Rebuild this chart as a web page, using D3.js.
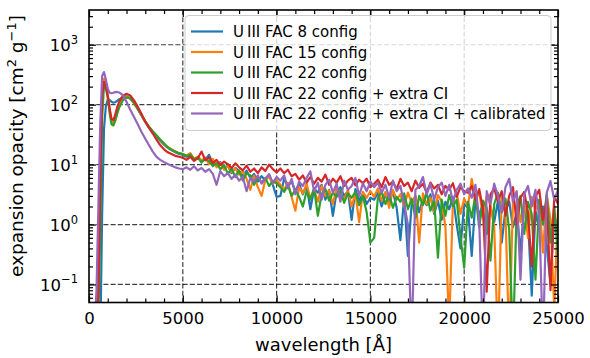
<!DOCTYPE html>
<html>
<head>
<meta charset="utf-8">
<script src="https://cdn.jsdelivr.net/npm/d3@7"></script>
<style>
  body { margin: 0; background: #fff; }
  svg text { font-family: "DejaVu Sans", sans-serif; fill: #000; }
</style>
</head>
<body>
<div id="chart"></div>
<script>

// wavelength grid [Angstrom], shared by all series
const wavelength = [
  300, 400, 500, 600, 700, 800, 900, 1000, 1100, 1200, 1300, 1400, 1500, 1600,
  1800, 2000, 2200, 2400, 2600, 2800, 3000, 3200, 3400, 3600, 3800, 4000, 4200, 4400, 4600, 4800, 5000,
  5200, 5400, 5600, 5800, 6000, 6200, 6400, 6600, 6800, 7000, 7200, 7400, 7600, 7800, 8000, 8200, 8400, 8600, 8800, 9000, 9200, 9400, 9600, 9800, 10000,
  10200, 10400, 10600, 10800, 11000, 11200, 11400, 11600, 11800, 12000, 12200, 12400, 12600, 12800, 13000, 13200, 13400, 13600, 13800, 14000, 14200, 14400, 14600, 14800, 15000,
  15200, 15400, 15600, 15800, 16000, 16200, 16400, 16600, 16800, 17000, 17200, 17400, 17600, 17800, 18000, 18200, 18400, 18600, 18800, 19000, 19200, 19400, 19600, 19800, 20000,
  20200, 20400, 20600, 20800, 21000, 21200, 21400, 21600, 21800, 22000, 22200, 22400, 22600, 22800, 23000, 23200, 23400, 23600, 23800, 24000, 24200, 24400, 24600, 24800, 25000
];

// expansion opacity [cm^2 g^-1], one array per model
const fac8 = [
  0.001, 0.001, 0.003, 0.01, 1.5, 40, 95, 122, 120, 112, 108, 110, 116, 122,
  132, 138, 128, 106, 84, 66, 51, 41, 34, 29, 25, 21.5, 19, 17.5, 16, 15, 14.5,
  13.5, 14.2, 12.0, 12.8, 11.5, 12.2, 14.5, 10.5, 9.8, 11.0, 8.5, 9.6, 7.2, 8.8, 7.8, 6.5, 7.9, 6.0, 7.0, 5.2, 6.4, 5.5, 6.8, 4.6, 2.9,
  3.0, 5.8, 4.4, 5.2, 3.6, 4.8, 3.2, 4.5, 1.8, 4.0, 3.4, 4.6, 2.6, 3.8, 1.4, 3.5, 4.2, 3.0, 3.6, 1.2, 3.9, 2.5, 3.3, 2.2, 2.8,
  2.6, 3.4, 2.0, 3.1, 2.4, 3.6, 1.9, 0.55, 2.8, 0.3, 2.2, 3.0, 1.6, 2.7, 2.1, 3.2, 1.5, 2.5, 1.2, 2.4, 1.8, 2.9, 1.0, 0.4, 2.2,
  1.9, 0.3, 2.6, 1.4, 2.3, 0.7, 2.0, 1.1, 2.5, 0.5, 1.8, 2.4, 0.9, 1.6, 0.35, 2.1, 1.2, 0.065, 1.7, 0.8, 2.0, 0.45, 0.1, 1.4, 0.9
];
const fac15 = [
  0.001, 0.02, 0.2, 8, 120, 270, 230, 150, 85, 54, 48, 55, 72, 92,
  122, 136, 126, 105, 84, 66, 52, 42, 35, 30, 26, 22, 19.5, 18, 16.5, 15.5, 15,
  14.2, 15.5, 12.5, 13.6, 11.8, 13.0, 10.2, 12.4, 9.0, 10.6, 8.2, 9.5, 7.5, 8.6, 6.8, 7.7, 5.8, 3.8, 6.5, 4.2, 3.0, 5.6, 6.2, 4.8, 5.5,
  4.6, 3.8, 5.0, 2.9, 1.7, 4.2, 3.3, 4.8, 2.7, 3.9, 2.4, 4.4, 3.0, 3.7, 2.2, 4.1, 3.1, 2.6, 3.8, 2.0, 3.3, 1.1, 3.5, 2.8, 3.6,
  2.9, 4.0, 2.5, 3.5, 1.9, 3.8, 2.6, 3.2, 2.0, 3.4, 2.3, 3.0, 0.5, 3.3, 2.2, 2.8, 1.6, 3.1, 2.4, 0.9, 0.02, 2.6, 3.4, 1.5, 2.7,
  2.0, 5.8, 2.4, 3.6, 1.3, 3.0, 2.1, 0.9, 0.01, 2.8, 1.5, 0.01, 2.6, 3.3, 1.1, 2.3, 0.6, 2.9, 1.7, 2.5, 0.34, 3.1, 1.2, 0.04, 1.8
];
const fac22 = [
  0.001, 0.005, 0.03, 0.8, 60, 210, 190, 130, 72, 47, 45, 54, 70, 88,
  118, 132, 127, 108, 86, 67, 53, 43, 36, 31, 26, 22.5, 19.5, 17.5, 16.5, 15.5, 15,
  13.8, 14.8, 12.2, 13.2, 10.8, 12.6, 11.4, 9.4, 10.6, 8.4, 9.8, 7.0, 8.6, 6.2, 8.0, 5.4, 7.2, 6.6, 4.6, 6.2, 5.0, 6.0, 4.4, 5.3, 4.9,
  4.2, 3.5, 4.6, 3.0, 3.8, 2.9, 2.0, 3.6, 2.6, 4.0, 1.4, 3.2, 3.9, 2.5, 3.4, 2.9, 3.7, 2.3, 3.3, 2.8, 3.5, 2.1, 3.0, 1.6, 0.5,
  0.6, 2.8, 3.5, 2.2, 3.2, 1.9, 2.9, 2.4, 3.3, 1.8, 2.7, 1.3, 3.0, 2.1, 3.4, 1.7, 2.5, 0.28, 2.6, 1.4, 3.1, 2.0, 2.6, 0.64, 0.19,
  2.4, 1.3, 3.2, 0.9, 2.5, 1.9, 0.25, 2.2, 3.4, 1.6, 2.7, 0.8, 0.01, 2.0, 3.0, 0.7, 2.4, 1.5, 0.12, 2.6, 1.0, 3.2, 0.5, 2.1, 0.3
];
const fac22ci = [
  0.001, 0.01, 0.08, 5, 140, 240, 200, 140, 86, 58, 55, 68, 90, 110,
  140, 152, 142, 118, 92, 70, 52, 41, 33, 26, 21, 18, 16, 15, 14, 13.5, 13,
  12.0, 13.5, 11.5, 12.8, 16.5, 11.8, 13.2, 10.6, 12.0, 9.8, 11.2, 10.2, 8.8, 10.5, 9.0, 8.0, 9.6, 7.6, 8.6, 7.2, 9.0, 7.8, 10.0, 8.4, 7.4,
  8.6, 7.2, 8.2, 6.4, 7.0, 5.6, 6.6, 5.0, 6.2, 4.8, 6.0, 5.2, 6.8, 4.6, 5.8, 5.0, 6.4, 4.4, 5.4, 6.0, 4.5, 5.6, 4.9, 5.8, 4.2,
  4.8, 5.6, 4.2, 6.2, 4.6, 5.2, 3.9, 5.8, 4.4, 5.0, 3.6, 5.4, 4.1, 4.8, 3.4, 5.0, 4.0, 4.6, 3.2, 4.4, 3.8, 4.9, 2.9, 4.2, 3.6,
  3.4, 4.4, 2.6, 3.9, 1.8, 0.076, 3.2, 4.0, 2.4, 3.6, 1.4, 3.0, 4.2, 1.0, 2.8, 3.5, 1.6, 0.2, 2.9, 3.8, 1.2, 2.6, 0.08, 3.0, 2.2
];
const fac22ciCal = [
  0.02, 0.08, 2, 50, 300, 350, 260, 185, 158, 155, 158, 162, 163, 160,
  145, 112, 82, 62, 47, 35, 27, 21, 16.5, 13.5, 12, 11, 10.2, 9.6, 9.0, 8.6, 8.4,
  9.0, 8.2, 9.4, 8.0, 8.8, 7.6, 8.4, 7.0, 4.6, 7.8, 6.4, 7.2, 5.8, 6.8, 5.4, 6.2, 3.6, 6.0, 5.2, 6.6, 4.8, 5.8, 6.9, 5.0, 6.2,
  5.4, 6.6, 4.0, 5.8, 3.2, 5.2, 4.4, 6.0, 7.7, 3.6, 5.0, 2.6, 4.6, 5.6, 3.4, 4.8, 2.4, 5.4, 3.8, 4.4, 6.0, 3.0, 4.9, 3.6, 5.2,
  4.2, 5.0, 3.4, 4.6, 2.8, 5.4, 3.6, 4.4, 2.2, 1.0, 0.01, 3.8, 4.4, 6.2, 3.2, 4.8, 2.6, 4.2, 5.0, 3.0, 4.6, 2.4, 3.8, 4.8, 3.2,
  4.0, 2.8, 4.6, 1.2, 0.01, 3.6, 2.2, 4.8, 3.0, 1.6, 4.2, 5.8, 2.4, 3.6, 0.12, 3.2, 4.4, 2.0, 3.8, 1.4, 0.01, 3.4, 5.3, 2.6, 3.8
];

const seriesLabels = [
  "U\u2009III FAC 8 config",
  "U\u2009III FAC 15 config",
  "U\u2009III FAC 22 config",
  "U\u2009III FAC 22 config + extra CI",
  "U\u2009III FAC 22 config + extra CI + calibrated"
];
const seriesColors = ["#1f77b4", "#ff7f0e", "#2ca02c", "#d62728", "#9467bd"];

const xTicks = [0, 5000, 10000, 15000, 20000, 25000];
const xMinorTicks = [1000, 2000, 3000, 4000, 6000, 7000, 8000, 9000, 11000, 12000, 13000, 14000,
                     16000, 17000, 18000, 19000, 21000, 22000, 23000, 24000];
const yTickExp = [-1, 0, 1, 2, 3];

function draw() {
    let W = 590, H = 358;
    let box = {left: 89, right: 558, top: 10, bottom: 302.5};
    let allSeries = [fac8, fac15, fac22, fac22ci, fac22ciCal];

    let x = d3.scaleLinear().domain([0, 25000]).range([box.left, box.right]);
    let y = d3.scaleLog().domain([0.05, 3800]).range([box.bottom, box.top]);

    let svg = d3.select("#chart").append("svg")
        .attr("width", W).attr("height", H);

    svg.append("clipPath").attr("id", "plotclip")
        .append("rect")
        .attr("x", box.left).attr("y", box.top)
        .attr("width", box.right - box.left).attr("height", box.bottom - box.top);

    // dashed grid at major ticks
    let grid = svg.append("g")
        .attr("stroke", "#000").attr("stroke-opacity", 0.75)
        .attr("stroke-width", 1.2).attr("stroke-dasharray", "5,2.2");
    grid.selectAll("line.gx")
        .data(xTicks.slice(1, -1))
        .enter().append("line")
        .attr("x1", (d) => x(d)).attr("x2", (d) => x(d))
        .attr("y1", box.top).attr("y2", box.bottom);
    grid.selectAll("line.gy")
        .data(yTickExp)
        .enter().append("line")
        .attr("x1", box.left).attr("x2", box.right)
        .attr("y1", (e) => y(Math.pow(10, e))).attr("y2", (e) => y(Math.pow(10, e)));

    // the spectra
    let line = d3.line()
        .x((d, i) => x(wavelength[i]))
        .y((d) => y(d));
    svg.append("g")
        .attr("clip-path", "url(#plotclip)")
        .selectAll("path")
        .data(allSeries)
        .enter().append("path")
        .attr("d", (d) => line(d))
        .attr("fill", "none")
        .attr("stroke", (d, i) => seriesColors[i])
        .attr("stroke-width", 2.2)
        .attr("stroke-linejoin", "round");

    // minor log ticks
    let yMinor = [];
    for (let e = -2; e <= 3; e++) {
        for (let k = 2; k <= 9; k++) {
            let v = k * Math.pow(10, e);
            if (v > 0.05 && v < 3800) yMinor.push(v);
        }
    }
    let yMajor = yTickExp.map((e) => Math.pow(10, e));

    // axes, ticks pointing inward on all four sides
    let bottomG = svg.append("g").attr("transform", "translate(0," + box.bottom + ")");
    bottomG.call(d3.axisBottom(x).tickValues(xTicks).tickSizeInner(-7).tickSizeOuter(0)
        .tickPadding(10).tickFormat(d3.format("d")));
    bottomG.append("g").call(d3.axisBottom(x).tickValues(xMinorTicks).tickSizeInner(-4)
        .tickSizeOuter(0).tickFormat(""));
    bottomG.selectAll("text").attr("font-size", 16.5).attr("font-family", "DejaVu Sans");

    let topG = svg.append("g").attr("transform", "translate(0," + box.top + ")");
    topG.call(d3.axisTop(x).tickValues(xTicks).tickSizeInner(-7).tickSizeOuter(0).tickFormat(""));
    topG.append("g").call(d3.axisTop(x).tickValues(xMinorTicks).tickSizeInner(-4)
        .tickSizeOuter(0).tickFormat(""));

    let leftG = svg.append("g").attr("transform", "translate(" + box.left + ",0)");
    leftG.call(d3.axisLeft(y).tickValues(yMajor).tickSizeInner(-7).tickSizeOuter(0).tickFormat(""));
    leftG.append("g").call(d3.axisLeft(y).tickValues(yMinor).tickSizeInner(-4)
        .tickSizeOuter(0).tickFormat(""));

    let rightG = svg.append("g").attr("transform", "translate(" + box.right + ",0)");
    rightG.call(d3.axisRight(y).tickValues(yMajor).tickSizeInner(-7).tickSizeOuter(0).tickFormat(""));
    rightG.append("g").call(d3.axisRight(y).tickValues(yMinor).tickSizeInner(-4)
        .tickSizeOuter(0).tickFormat(""));

    svg.selectAll(".domain").remove();
    svg.selectAll(".tick line").attr("stroke", "#000").attr("stroke-width", 1.2);

    // y tick labels as 10^e
    svg.append("g").selectAll("text")
        .data(yTickExp)
        .enter().append("text")
        .attr("x", 78)
        .attr("y", (e) => y(Math.pow(10, e)) + 6.5)
        .attr("text-anchor", "end")
        .attr("font-size", 16.5)
        .each(function(e) {
            let t = d3.select(this);
            t.append("tspan").text("10");
            t.append("tspan").attr("dy", -7.5).attr("font-size", 11.5)
                .text(e < 0 ? "\u2212" + (-e) : String(e));
        });

    // frame
    svg.append("rect")
        .attr("x", box.left).attr("y", box.top)
        .attr("width", box.right - box.left).attr("height", box.bottom - box.top)
        .attr("fill", "none").attr("stroke", "#000").attr("stroke-width", 1.6);

    // axis titles
    svg.append("text")
        .attr("x", (box.left + box.right) / 2).attr("y", 351)
        .attr("text-anchor", "middle").attr("font-size", 18)
        .text("wavelength [\u00c5]");

    let yl = svg.append("text")
        .attr("transform", "translate(23,146) rotate(-90)")
        .attr("text-anchor", "middle").attr("font-size", 18.5);
    yl.append("tspan").text("expansion opacity [cm");
    yl.append("tspan").attr("dy", -7).attr("font-size", 13).text("2");
    yl.append("tspan").attr("dy", 7).text(" g");
    yl.append("tspan").attr("dy", -7).attr("font-size", 13).text("\u22121");
    yl.append("tspan").attr("dy", 7).text("]");

    // legend
    let leg = svg.append("g");
    leg.append("rect")
        .attr("x", 185).attr("y", 15.5).attr("width", 366).attr("height", 115).attr("rx", 4)
        .attr("fill", "#fff").attr("fill-opacity", 0.8)
        .attr("stroke", "#ccc").attr("stroke-width", 1);
    let rows = leg.selectAll("g.row")
        .data(seriesLabels)
        .enter().append("g")
        .attr("transform", (d, i) => "translate(0," + (31.5 + i * 20.5) + ")");
    rows.append("line")
        .attr("x1", 191).attr("x2", 223).attr("y1", 0).attr("y2", 0)
        .attr("stroke", (d, i) => seriesColors[i]).attr("stroke-width", 2.2);
    rows.append("text")
        .attr("x", 233).attr("y", 5.5)
        .attr("font-size", 15)
        .text((d) => d);
}

draw();
</script>
</body>
</html>
